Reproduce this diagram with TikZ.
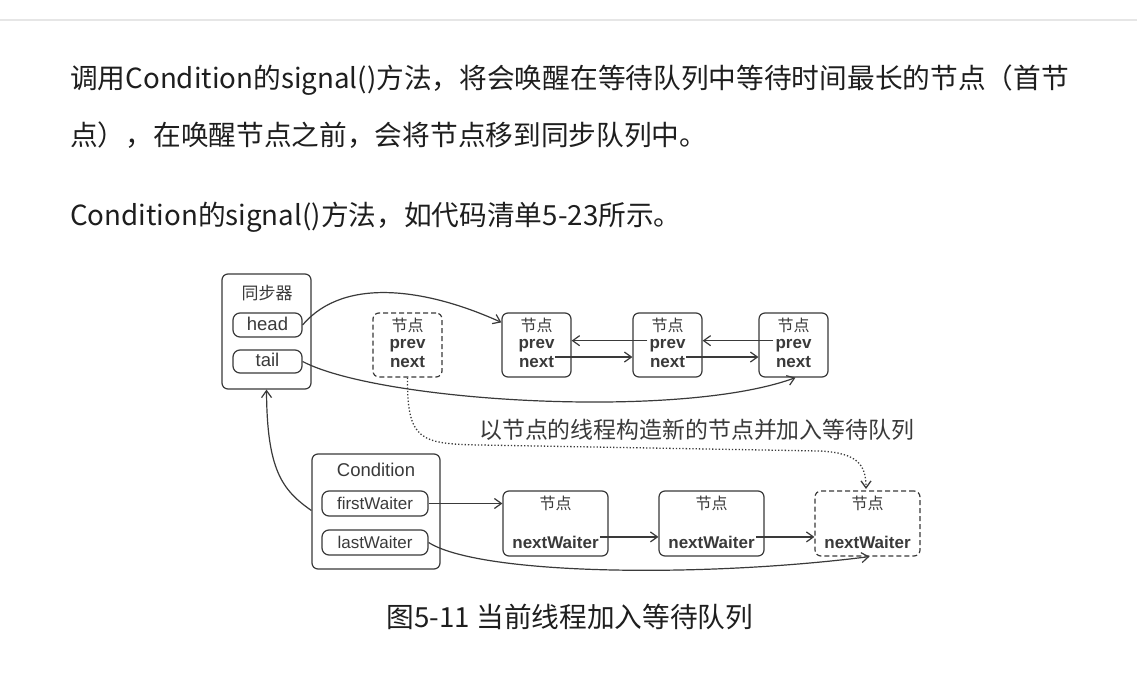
\documentclass[tikz,border=0pt]{standalone}
\usepackage{fontspec}
\setmainfont{Noto Sans CJK SC}
\newfontfamily\labfont{Liberation Sans}
\newfontfamily\cjkfont{Noto Sans CJK SC}
\usetikzlibrary{arrows.meta,calc}
\definecolor{lc}{HTML}{3A3A3A}
\definecolor{txt}{HTML}{1E1E1E}
\definecolor{rule}{HTML}{E6E6E6}
\tikzset{
  rbox/.style={draw=lc, line width=1.2pt, rounded corners=6pt, inner sep=0pt},
  dbox/.style={rbox, dashed, dash pattern=on 5pt off 3pt},
  qnode/.style={rbox, minimum width=69pt, minimum height=64pt},
  wnode/.style={rbox, minimum width=105pt, minimum height=65pt},
  fld/.style={rbox, rounded corners=7pt},
  lab/.style={text=lc, font=\labfont\fontsize{17}{17}\selectfont, inner sep=0pt},
  blab/.style={text=lc, font=\labfont\bfseries\fontsize{17}{17}\selectfont, inner sep=0pt, anchor=base},
  clab/.style={text=lc, font=\cjkfont\fontsize{16}{16}\selectfont, inner sep=0pt},
  arr/.style={draw=lc, line width=1.2pt, -{Straight Barb[length=7pt,width=10pt]}},
  para/.style={text=txt, font=\fontsize{27.7}{27.7}\selectfont, inner sep=0pt, anchor=west},
}
\begin{document}
\begin{tikzpicture}[x=1pt,y=-1pt]
\useasboundingbox[fill=white] (0,0) rectangle (1137,676);
\draw[rule, line width=1.5pt] (0,20) -- (1137,20);

% paragraph text
\node[para] (p1) at (70,80) {调用Condition的signal()方法，将会唤醒在等待队列中等待时间最长的节点（首节};
\node[para] (p2) at (70,135) {点），在唤醒节点之前，会将节点移到同步队列中。};
\node[para] (p3) at (70,217) {Condition的signal()方法，如代码清单5-23所示。};

% synchronizer
\node[rbox, minimum width=89pt, minimum height=115pt] (sync) at (266.5,331.5) {};
\node[clab, font=\cjkfont\fontsize{17}{17}\selectfont] (synct) at (267,293) {同步器};
\node[fld, minimum width=69pt, minimum height=24pt] (head) at (267.5,325) {};
\node[lab, font=\labfont\fontsize{18.5}{18.5}\selectfont] (headt) at (267.5,324) {head};
\node[fld, minimum width=69pt, minimum height=23pt] (tail) at (267.5,361.5) {};
\node[lab, font=\labfont\fontsize{18.5}{18.5}\selectfont] (tailt) at (267.5,360) {tail};

% sync queue nodes
\node[dbox, minimum width=69pt, minimum height=64pt] (dn) at (407.5,345) {};
\node[clab] (dnt) at (407.5,325) {节点};
\node[blab] (dnp) at (407.5,348.5) {prev};
\node[blab] (dnn) at (407.5,367.5) {next};

\node[qnode] (A) at (536.5,345) {};
\node[clab] (At) at (536.5,325) {节点};
\node[blab] (Ap) at (536.5,348.5) {prev};
\node[blab] (An) at (536.5,367.5) {next};

\node[qnode] (B) at (667.5,345) {};
\node[clab] (Bt) at (667.5,325) {节点};
\node[blab] (Bp) at (667.5,348.5) {prev};
\node[blab] (Bn) at (667.5,367.5) {next};

\node[qnode] (C) at (793.5,345) {};
\node[clab] (Ct) at (793.5,325) {节点};
\node[blab] (Cp) at (793.5,348.5) {prev};
\node[blab] (Cn) at (793.5,367.5) {next};

% prev / next links
\coordinate (Bpl) at ($(Bp.west)+(-2,-5)$);
\coordinate (Anr) at ($(An.east)+(1,-5)$);
\coordinate (Cpl) at ($(Cp.west)+(-2,-5)$);
\coordinate (Bnr) at ($(Bn.east)+(1,-5)$);
\draw[arr] (Bpl) -- (Bpl -| A.east);
\draw[arr] (Anr) -- (Anr -| B.west);
\draw[arr] (Cpl) -- (Cpl -| B.east);
\draw[arr] (Bnr) -- (Bnr -| C.west);

% head and tail
\draw[arr] (head.east) .. controls (345,275) and (430,290) .. ($(A.north west)+(0,10)$);
\draw[arr] (tail.east) .. controls (380,402) and (680,420) .. ($(C.south)+(2,0)$);

% dotted link
\coordinate (dtip) at (866,489);
\draw[draw=lc, line width=1.3pt, dotted, -{Straight Barb[length=7pt,width=10pt]}]
  (dn.south) .. controls (407,440) and (420,444) .. (480,445)
  -- (820,451) .. controls (858,453) and (866,465) .. (dtip);
\node[clab, font=\cjkfont\fontsize{22.9}{22.9}\selectfont, anchor=west] (note) at (479,430) {以节点的线程构造新的节点并加入等待队列};

% condition
\node[rbox, minimum width=128pt, minimum height=115pt] (cond) at (376,511.5) {};
\node[lab, font=\labfont\fontsize{18.5}{18.5}\selectfont] (condt) at (376,470) {Condition};
\node[fld, minimum width=106pt, minimum height=25pt] (fw) at (375,503.5) {};
\node[lab] (fwt) at (375,503) {firstWaiter};
\node[fld, minimum width=106pt, minimum height=25pt] (lw) at (375,542.5) {};
\node[lab] (lwt) at (375,542) {lastWaiter};

% wait queue nodes
\node[wnode] (W1) at (555.5,523.5) {};
\node[clab] (W1t) at (555.5,503) {节点};
\node[blab] (W1n) at (555.5,548) {nextWaiter};

\node[wnode] (W2) at (711.5,523.5) {};
\node[clab] (W2t) at (711.5,503) {节点};
\node[blab] (W2n) at (711.5,548) {nextWaiter};

\node[dbox, minimum width=105pt, minimum height=65pt] (W3) at (867.5,523.5) {};
\node[clab] (W3t) at (867.5,503) {节点};
\node[blab] (W3n) at (867.5,548) {nextWaiter};

\coordinate (W1r) at ($(W1n.east)+(1,-5)$);
\coordinate (W2r) at ($(W2n.east)+(1,-5)$);
\draw[arr] (fw.east) -- (fw.east -| W1.west);
\draw[arr] (W1r) -- (W1r -| W2.west);
\draw[arr] (W2r) -- (W2r -| W3.west);
\draw[arr] (lw.east) .. controls (480,575) and (700,578) .. ($(W3.south)+(2,0)$);

% condition -> synchronizer
\draw[arr] ($(cond.west)+(0,-1)$) .. controls (282,490) and (267,470) .. (sync.south);

% caption
\node[text=txt, font=\fontsize{27.7}{27.7}\selectfont, inner sep=0pt] (cap) at (570,617) {图5-11 当前线程加入等待队列};
\end{tikzpicture}
\end{document}
